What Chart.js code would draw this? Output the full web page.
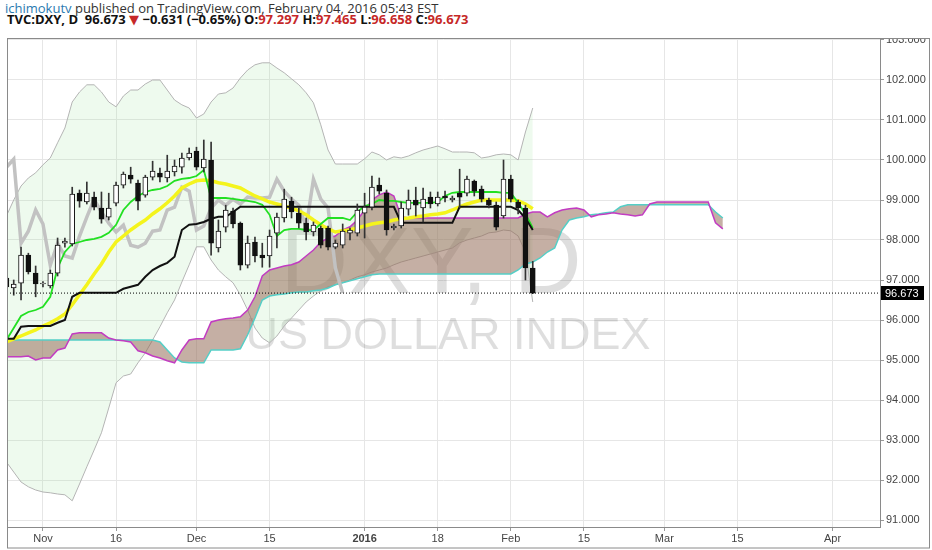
<!DOCTYPE html>
<html>
<head>
<meta charset="utf-8">
<title>DXY, D - Ichimoku</title>
<script src="https://cdn.jsdelivr.net/npm/chart.js@4.4.1/dist/chart.umd.min.js"></script>
<style>
  html, body { margin: 0; padding: 0; background: #fff; }
  #wrap { position: relative; width: 932px; height: 550px; overflow: hidden; background: #fff; }
  #chart { position: absolute; left: 0; top: 0; }
  #head { position: absolute; left: 0; top: 0; width: 932px; height: 38px; background: #fff; z-index: 2;
          font-family: "Open Sans", "DejaVu Sans", sans-serif; color: #333; }
  #line1 { position: absolute; left: 5px; top: -1px; font-size: 13px; white-space: nowrap; }
  #line1 .user { color: #2a7ab0; }
  #line2 { position: absolute; left: 7px; top: 10px; font-size: 13px; font-weight: 700; white-space: nowrap; color: #111; }
  .red { color: #c62828; }
</style>
</head>
<body>
<div id="wrap">
  <canvas id="chart" width="932" height="550"></canvas>
  <div id="head">
    <div id="line1"><span class="user">ichimokutv</span> published on TradingView.com, February 04, 2016 05:43 EST</div>
    <div id="line2">TVC:DXY, D&nbsp; 96.673 <span class="red">▼</span> −0.631 (−0.65%) O:<span class="red">97.297</span> H:<span class="red">97.465</span> L:<span class="red">96.658</span> C:<span class="red">96.673</span></div>
  </div>
</div>
<script>
// bar 0 = Nov 2, 2015 (trading days); first visible bar is -5
const firstBar = -5;

const opens  = [97.05, 96.80, 96.92, 97.62, 97.17, 96.90, 96.85, 97.17, 97.92, 97.90, 99.17, 98.95, 99.07, 98.80, 98.57, 98.92, 99.37, 99.62, 99.42, 99.12, 99.57, 99.67, 99.55, 99.70, 99.82, 100.05, 100.22, 99.80, 100.00, 97.80, 98.32, 98.72, 98.42, 97.37, 97.95, 97.62, 97.60, 98.17, 98.55, 98.97, 98.67, 98.42, 98.20, 98.30, 98.30, 97.82, 97.87, 98.17, 98.17, 98.67, 98.82, 99.37, 99.17, 98.30, 98.35, 98.77, 99.00, 98.80, 99.07, 98.90, 99.10, 99.00, 99.17, 99.17, 99.47, 99.27, 99.00, 98.87, 98.60, 99.52, 98.95, 98.80, 97.297];
const highs  = [97.12, 97.00, 97.82, 97.67, 97.35, 96.96, 97.25, 98.05, 98.05, 99.32, 99.25, 99.45, 99.20, 99.20, 99.17, 99.45, 99.70, 99.82, 99.50, 99.62, 99.97, 99.80, 100.12, 100.00, 100.17, 100.30, 100.32, 100.50, 100.45, 98.50, 98.87, 98.80, 98.45, 98.10, 98.07, 97.92, 98.25, 98.67, 99.27, 99.07, 98.80, 98.55, 98.45, 98.35, 98.35, 98.00, 98.40, 98.30, 98.90, 99.17, 99.60, 99.55, 99.25, 98.40, 98.95, 99.25, 99.32, 99.30, 99.20, 99.20, 99.22, 99.10, 99.77, 99.60, 99.50, 99.35, 99.05, 98.95, 100.00, 99.62, 99.00, 98.87, 97.465];
const lows   = [96.75, 96.62, 96.50, 97.15, 96.58, 96.83, 96.80, 97.10, 97.82, 97.85, 98.82, 98.90, 98.75, 98.42, 98.50, 98.85, 99.30, 99.42, 98.75, 99.07, 99.50, 99.45, 99.45, 99.60, 99.67, 100.00, 99.75, 99.70, 97.62, 97.70, 98.20, 98.30, 97.25, 97.30, 97.45, 97.32, 97.32, 97.80, 98.45, 98.55, 98.30, 98.00, 98.10, 97.80, 97.75, 97.78, 97.80, 98.00, 98.10, 98.05, 98.75, 99.15, 98.12, 98.25, 98.30, 98.62, 98.60, 98.45, 98.80, 98.85, 98.95, 98.95, 98.80, 99.10, 99.10, 98.95, 98.80, 98.25, 98.55, 98.95, 98.65, 97.00, 96.658];
const closes = [96.83, 96.90, 97.62, 97.20, 96.90, 96.92, 97.17, 97.87, 97.97, 99.15, 98.97, 99.17, 98.82, 98.52, 98.80, 99.37, 99.65, 99.52, 98.97, 99.57, 99.72, 99.57, 99.72, 99.85, 100.05, 100.17, 99.82, 100.02, 97.92, 98.22, 98.75, 98.40, 97.37, 97.92, 97.60, 97.55, 98.10, 98.57, 99.02, 98.70, 98.42, 98.20, 98.37, 97.87, 97.82, 97.92, 98.22, 98.25, 98.75, 98.82, 99.32, 99.22, 98.25, 98.35, 98.80, 99.00, 98.87, 99.02, 98.90, 99.07, 99.05, 99.05, 99.07, 99.52, 99.22, 99.02, 98.87, 98.32, 99.52, 99.02, 98.80, 97.30, 96.673];

// bands and ichimoku lines, same bars as the candles
const upperBand = [98.6, 99.0, 99.35, 99.55, 99.68, 99.88, 100.05, 100.43, 100.8, 101.45, 101.7, 101.88, 101.88, 101.7, 101.45, 101.33, 101.6, 101.75, 101.75, 101.9, 102.0, 102.0, 101.75, 101.5, 101.38, 101.3, 101.05, 101.15, 101.45, 101.65, 101.68, 101.8, 102.05, 102.25, 102.38, 102.43, 102.43, 102.3, 102.18, 102.03, 101.88, 101.68, 101.43, 100.88, 100.25, 99.9, 99.9, 99.9, 99.9, 100.03, 100.2, 100.13, 100.0, 100.08, 100.05, 100.1, 100.18, 100.25, 100.3, 100.35, 100.28, 100.2, 100.2, 100.2, 100.18, 100.05, 100.08, 100.13, 100.15, 100.13, 100.0, 100.7, 101.3];
const lowerBand = [92.45, 92.2, 91.95, 91.83, 91.75, 91.7, 91.68, 91.65, 91.63, 91.48, 91.9, 92.33, 92.75, 93.18, 93.8, 94.43, 94.6, 94.65, 94.93, 95.18, 95.5, 95.83, 96.18, 96.5, 96.95, 97.38, 97.83, 97.83, 97.5, 97.25, 97.08, 96.93, 96.63, 96.25, 95.8, 95.55, 95.43, 95.6, 95.85, 96.05, 96.25, 96.45, 96.6, 96.73, 96.83, 96.88, 96.93, 97.0, 97.08, 97.13, 97.2, 97.25, 97.3, 97.38, 97.45, 97.5, 97.55, 97.6, 97.65, 97.7, 97.75, 97.8, 97.93, 98.0, 98.05, 98.1, 98.18, 98.2, 98.25, 98.23, 98.1, 97.7, 96.45];
const midLine   = [95.45, 95.53, 95.6, 95.68, 95.75, 95.85, 95.93, 96.03, 96.15, 96.38, 96.63, 96.88, 97.15, 97.4, 97.7, 97.95, 98.1, 98.25, 98.38, 98.5, 98.65, 98.78, 98.93, 99.1, 99.3, 99.4, 99.48, 99.5, 99.48, 99.43, 99.4, 99.35, 99.3, 99.2, 99.1, 99.03, 98.95, 98.9, 98.85, 98.8, 98.73, 98.63, 98.5, 98.38, 98.28, 98.2, 98.23, 98.25, 98.3, 98.35, 98.4, 98.43, 98.45, 98.5, 98.53, 98.55, 98.58, 98.6, 98.63, 98.65, 98.68, 98.75, 98.83, 98.9, 98.95, 99.0, 99.0, 99.0, 99.0, 99.0, 98.98, 98.9, 98.78];
const tenkan    = [95.5, 95.8, 96.1, 96.2, 96.25, 96.33, 96.58, 97.3, 97.7, 97.9, 97.95, 98.0, 98.03, 98.08, 98.18, 98.38, 98.75, 98.95, 99.1, 99.2, 99.25, 99.28, 99.35, 99.48, 99.53, 99.55, 99.6, 99.75, 99.05, 99.05, 99.05, 99.03, 99.0, 98.98, 98.95, 98.88, 98.63, 98.1, 98.25, 98.28, 98.28, 98.25, 98.25, 98.4, 98.55, 98.55, 98.55, 98.5, 98.7, 98.85, 98.9, 99.0, 98.98, 98.98, 98.95, 98.93, 98.93, 98.93, 98.93, 98.95, 99.1, 99.18, 99.2, 99.2, 99.2, 99.2, 99.2, 99.2, 99.18, 99.18, 98.93, 98.65, 98.3];
const kijun     = [95.53, 95.53, 95.83, 95.85, 95.85, 95.85, 95.85, 95.93, 96.0, 96.58, 96.68, 96.68, 96.68, 96.68, 96.68, 96.68, 96.78, 96.83, 96.88, 97.08, 97.25, 97.35, 97.43, 97.58, 98.25, 98.38, 98.4, 98.45, 98.53, 98.58, 98.58, 98.7, 98.83, 98.83, 98.83, 98.83, 98.83, 98.83, 98.83, 98.83, 98.83, 98.83, 98.83, 98.83, 98.83, 98.83, 98.83, 98.83, 98.83, 98.83, 98.83, 98.83, 98.83, 98.83, 98.43, 98.43, 98.43, 98.43, 98.43, 98.43, 98.43, 98.43, 98.83, 98.83, 98.83, 98.83, 98.83, 98.83, 98.83, 98.83, 98.75, 98.55, 98.25];

// cloud, pushed 26 bars ahead: bars -5 .. 93
const spanA = [95.5, 95.5, 95.5, 95.5, 95.5, 95.5, 95.5, 95.5, 95.5, 95.5, 95.5, 95.5, 95.5, 95.5, 95.5, 95.5, 95.5, 95.5, 95.5, 95.5, 95.5, 95.45, 95.25, 95.05, 94.95, 94.93, 94.93, 94.93, 95.25, 95.25, 95.25, 95.25, 95.28, 95.63, 96.05, 96.5, 96.6, 96.63, 96.65, 96.68, 96.7, 96.7, 96.73, 96.75, 96.8, 96.88, 96.93, 96.98, 97.03, 97.08, 97.13, 97.15, 97.15, 97.15, 97.15, 97.15, 97.15, 97.15, 97.15, 97.15, 97.15, 97.15, 97.15, 97.15, 97.15, 97.15, 97.15, 97.15, 97.15, 97.15, 97.25, 97.4, 97.45, 97.55, 97.7, 97.8, 98.25, 98.5, 98.55, 98.58, 98.63, 98.65, 98.68, 98.7, 98.83, 98.88, 98.88, 98.88, 98.88, 98.88, 98.88, 98.88, 98.88, 98.88, 98.88, 98.88, 98.88, 98.7, 98.55];
const spanB = [95.08, 95.08, 95.08, 95.1, 95.0, 95.05, 95.05, 95.25, 95.3, 95.65, 95.68, 95.68, 95.68, 95.68, 95.55, 95.5, 95.48, 95.45, 95.23, 95.18, 95.1, 95.05, 94.98, 94.93, 95.25, 95.5, 95.53, 95.53, 95.95, 96.0, 96.03, 96.05, 96.08, 96.25, 96.58, 97.1, 97.25, 97.3, 97.35, 97.38, 97.45, 97.6, 97.75, 97.95, 98.05, 98.1, 98.25, 98.33, 98.5, 98.75, 99.0, 99.13, 99.2, 99.1, 98.58, 98.55, 98.55, 98.55, 98.55, 98.55, 98.55, 98.55, 98.55, 98.55, 98.55, 98.55, 98.55, 98.55, 98.55, 98.55, 98.55, 98.65, 98.7, 98.7, 98.58, 98.68, 98.75, 98.78, 98.8, 98.75, 98.58, 98.63, 98.65, 98.68, 98.65, 98.63, 98.6, 98.63, 98.9, 98.95, 98.95, 98.95, 98.95, 98.95, 98.95, 98.95, 98.95, 98.43, 98.28];

// axes
const tickBars   = [0, 10, 21, 31, 44, 54, 64, 74, 85, 95, 108];
const tickLabels = ['Nov', '16', 'Dec', '15', '2016', '18', 'Feb', '15', 'Mar', '15', 'Apr'];
const priceTicks = [91, 92, 93, 94, 95, 96, 97, 98, 99, 100, 101, 102, 103];
const xMin = -4.92, xMax = 114.5;
const yMin = 90.825, yMax = 103.05;

const symbolMark = 'DXY, D';
const symbolName = 'US DOLLAR INDEX';

const AXIS_FONT = '"Liberation Sans", Arial, sans-serif';

function series(values, start) {
    return values.map((v, k) => ({ x: start + k, y: v }));
}

const lastClose = closes[closes.length - 1];
const isUp = closes.map((c, k) => c >= opens[k]);
const lagging = closes.slice(26).map((v, k) => ({ x: firstBar + k, y: v }));

function line(data, color, width, order, extra) {
    return Object.assign({
        type: 'line', data, borderColor: color, borderWidth: width,
        pointRadius: 0, tension: 0, fill: false, order
    }, extra || {});
}

const datasets = [
    line(series(upperBand, firstBar), '#b4b4b4', 1, 20, { fill: '+1', backgroundColor: 'rgba(160, 230, 160, 0.18)' }),
    line(series(lowerBand, firstBar), '#b4b4b4', 1, 19),
    line(series(spanA, firstBar), '#55cfc7', 1.5, 18, { fill: '+1', backgroundColor: 'rgba(150, 110, 90, 0.55)' }),
    line(series(spanB, firstBar), '#c23cc2', 1.5, 17),
    line(lagging, '#c2c2c2', 3.5, 16),
    line(series(midLine, firstBar), '#f4f41c', 3.5, 15),
    line(series(tenkan, firstBar), '#22e022', 1.8, 14),
    line(series(kijun, firstBar), '#111111', 2, 13),
    {
        type: 'bar', order: 3, grouped: false, barThickness: 1,
        data: lows.map((l, k) => ({ x: firstBar + k, y: [l, highs[k]] })),
        backgroundColor: '#333', borderWidth: 0
    },
    {
        type: 'bar', order: 2, grouped: false, barThickness: 5, minBarLength: 1,
        data: opens.map((o, k) => ({ x: firstBar + k, y: [o, closes[k]] })),
        backgroundColor: isUp.map(u => u ? '#ffffff' : '#111111'),
        borderColor: '#111111', borderWidth: 1, borderSkipped: false
    },
    line([{ x: xMin, y: lastClose }, { x: xMax, y: lastClose }], '#000', 1, 1, { borderDash: [1, 2] })
];

const watermarkPlugin = {
    id: 'watermark',
    beforeDatasetsDraw(chart) {
        const { ctx, chartArea: a } = chart;
        ctx.save();
        ctx.beginPath();
        ctx.rect(a.left, a.top, a.right - a.left, a.bottom - a.top);
        ctx.clip();
        ctx.fillStyle = 'rgba(0, 0, 0, 0.13)';
        ctx.textAlign = 'center';
        ctx.font = '94px ' + AXIS_FONT;
        ctx.fillText(symbolMark, 431, 293);
        ctx.font = '45px ' + AXIS_FONT;
        ctx.fillText(symbolName, 448, 349);
        ctx.restore();
    }
};

const framePlugin = {
    id: 'frame',
    afterDraw(chart) {
        const { ctx, chartArea: a } = chart;
        ctx.save();
        ctx.strokeStyle = '#8a8a8a';
        ctx.lineWidth = 1;
        ctx.strokeRect(a.left + 0.5, a.top + 0.5, a.right - a.left, a.bottom - a.top);
        ctx.strokeRect(a.left + 0.5, a.top + 0.5, chart.width - a.left - 3, chart.height - a.top - 2.5);
        ctx.restore();
    }
};

const lastPricePlugin = {
    id: 'lastPrice',
    afterDraw(chart) {
        const { ctx, chartArea: a, scales } = chart;
        const py = Math.round(scales.y.getPixelForValue(lastClose));
        ctx.save();
        ctx.fillStyle = '#000';
        ctx.fillRect(a.right + 1, py - 7, 43, 14);
        ctx.fillStyle = '#fff';
        ctx.font = '11px ' + AXIS_FONT;
        ctx.textBaseline = 'middle';
        ctx.fillText(lastClose.toFixed(3), a.right + 5, py + 0.5);
        ctx.restore();
    }
};

new Chart(document.getElementById('chart'), {
    type: 'line',
    data: { datasets },
    options: {
        responsive: false,
        animation: false,
        events: [],
        devicePixelRatio: 1,
        layout: { padding: { left: 7, top: 38, right: 0, bottom: 2 } },
        plugins: {
            legend: { display: false },
            tooltip: { enabled: false },
            filler: { propagate: false }
        },
        scales: {
            x: {
                type: 'linear', min: xMin, max: xMax, offset: false,
                afterBuildTicks: s => { s.ticks = tickBars.map(v => ({ value: v })); },
                afterFit: s => { s.height = 21; },
                grid: { color: '#e6e6e6', tickColor: '#999', tickLength: 4, offset: false },
                border: { display: true, color: '#8a8a8a' },
                ticks: {
                    autoSkip: false, maxRotation: 0, padding: 1, color: '#444',
                    font: ctx => ({ family: AXIS_FONT, size: 11, weight: ctx.index === 4 ? 'bold' : 'normal' }),
                    callback: v => tickLabels[tickBars.indexOf(v)]
                }
            },
            y: {
                type: 'linear', position: 'right', min: yMin, max: yMax,
                afterBuildTicks: s => { s.ticks = priceTicks.map(v => ({ value: v })); },
                afterFit: s => { s.width = 52; },
                grid: { color: '#e6e6e6', tickColor: '#999', tickLength: 4 },
                border: { display: true, color: '#8a8a8a' },
                ticks: {
                    padding: 2, color: '#444',
                    font: { family: AXIS_FONT, size: 11 },
                    callback: v => Number(v).toFixed(3)
                }
            }
        }
    },
    plugins: [watermarkPlugin, framePlugin, lastPricePlugin]
});
</script>
</body>
</html>
